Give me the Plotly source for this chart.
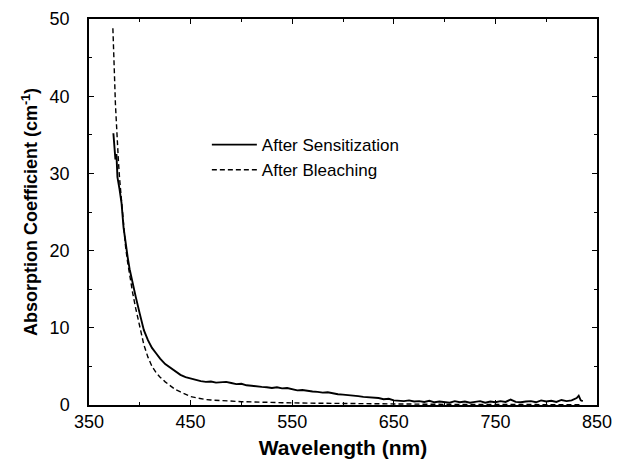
import plotly.graph_objects as go

# After Sensitization (solid)
sens_x = [374, 375, 376, 377, 378, 380, 382, 384, 386, 388, 390, 393, 396, 400, 404, 408, 412, 416, 420,
          425, 430, 435, 440, 445, 450, 455, 460, 465, 470, 475, 480, 485, 490, 495, 500, 505, 510, 515,
          520, 525, 530, 535, 540, 545, 550, 555, 560, 565, 570, 575, 580, 585, 590, 595, 600, 605, 610,
          615, 620, 625, 630, 635, 640, 645, 650, 655, 660, 665, 670, 675, 680, 685, 690, 695, 700, 705,
          710, 715, 720, 725, 730, 735, 740, 745, 750, 755, 760, 765, 770, 775, 780, 785, 790, 795, 800,
          805, 810, 815, 820, 825, 830, 832, 834, 836]
sens_y = [35.2, 33.5, 31.8, 32.5, 29.5, 28.0, 26.2, 23.0, 20.8, 19.2, 17.6, 15.6, 14.0, 11.8, 9.7, 8.4, 7.4,
          6.7, 6.0, 5.3, 4.8, 4.3, 3.9, 3.6, 3.4, 3.2, 3.1, 3.0, 3.05, 2.9, 2.95, 3.0, 2.85, 2.7, 2.75,
          2.55, 2.5, 2.4, 2.35, 2.3, 2.2, 2.3, 2.15, 2.2, 2.0, 1.9, 1.95, 1.8, 1.75, 1.7, 1.6, 1.65, 1.5,
          1.4, 1.35, 1.3, 1.2, 1.15, 1.05, 1.0, 0.95, 0.9, 0.75, 0.8, 0.6, 0.55, 0.5, 0.6, 0.45, 0.5, 0.4,
          0.55, 0.35, 0.45, 0.4, 0.3, 0.5, 0.35, 0.45, 0.3, 0.4, 0.5, 0.3, 0.45, 0.35, 0.5, 0.4, 0.7, 0.4,
          0.35, 0.45, 0.5, 0.35, 0.6, 0.45, 0.55, 0.4, 0.65, 0.5, 0.6, 0.9, 1.2, 0.6, 0.5]

# After Bleaching (dashed)
bleach_x = [373.5, 374, 375, 376, 377, 378, 379, 380, 382, 384, 386, 388, 390, 393, 396, 400, 404, 408, 412,
            416, 420, 425, 430, 435, 440, 445, 450, 455, 460, 465, 470, 480, 490, 500, 510, 520, 540, 560,
            580, 600, 620, 640, 660, 700, 750, 800, 835]
bleach_y = [48.8, 46.0, 43.0, 39.0, 36.0, 33.5, 31.5, 29.5, 26.5, 23.0, 20.5, 18.5, 16.7, 14.5, 12.5, 10.0,
            7.8, 6.2, 5.0, 4.2, 3.6, 3.0, 2.5, 2.0, 1.7, 1.4, 1.1, 0.95, 0.8, 0.7, 0.65, 0.55, 0.5, 0.43,
            0.4, 0.35, 0.3, 0.25, 0.22, 0.18, 0.15, 0.12, 0.1, 0.08, 0.06, 0.05, 0.05]

x_ticks = [350, 450, 550, 650, 750, 850]
y_ticks = [0, 10, 20, 30, 40, 50]

FONT = "Liberation Sans, Arial, sans-serif"

fig = go.Figure()
fig.add_trace(go.Scatter(x=sens_x, y=sens_y, mode="lines", name="After Sensitization",
                         line=dict(color="black", width=1.9)))
fig.add_trace(go.Scatter(x=bleach_x, y=bleach_y, mode="lines", name="After Bleaching",
                         line=dict(color="black", width=1.4, dash="5px,3px")))

axis_common = dict(showline=True, linecolor="black", linewidth=1.5, mirror="ticks",
                   ticks="inside", ticklen=5, tickwidth=1, tickcolor="black",
                   showgrid=False, zeroline=False, automargin=False,
                   tickfont=dict(family=FONT, size=18, color="black"))

fig.update_xaxes(range=[350, 850], tickvals=x_ticks, ticktext=[str(v) for v in x_ticks],
                 minor=dict(ticks="inside", ticklen=3, dtick=50, tickcolor="black", showgrid=False),
                 ticklabelstandoff=0,
                 title=dict(text="<b>Wavelength (nm)</b>", font=dict(family=FONT, size=21, color="black"),
                            standoff=9),
                 **axis_common)
fig.update_yaxes(range=[0, 50], tickvals=y_ticks, ticktext=[str(v) for v in y_ticks],
                 minor=dict(ticks="inside", ticklen=3, dtick=5, tickcolor="black", showgrid=False),
                 ticklabelstandoff=14,
                 title=dict(text="<b>Absorption Coefficient (cm<sup>-1</sup>)</b>",
                            font=dict(family=FONT, size=18, color="black"), standoff=7),
                 **axis_common)

fig.update_layout(
    width=618, height=456,
    margin=dict(l=81, r=29, t=11, b=59),
    paper_bgcolor="white", plot_bgcolor="white",
    font=dict(family=FONT, color="black"),
    legend=dict(x=0.232, y=0.72, xanchor="left", yanchor="top", bgcolor="rgba(0,0,0,0)",
                font=dict(family=FONT, size=17, color="black"), itemwidth=45),
)

fig.write_html("out.html")
